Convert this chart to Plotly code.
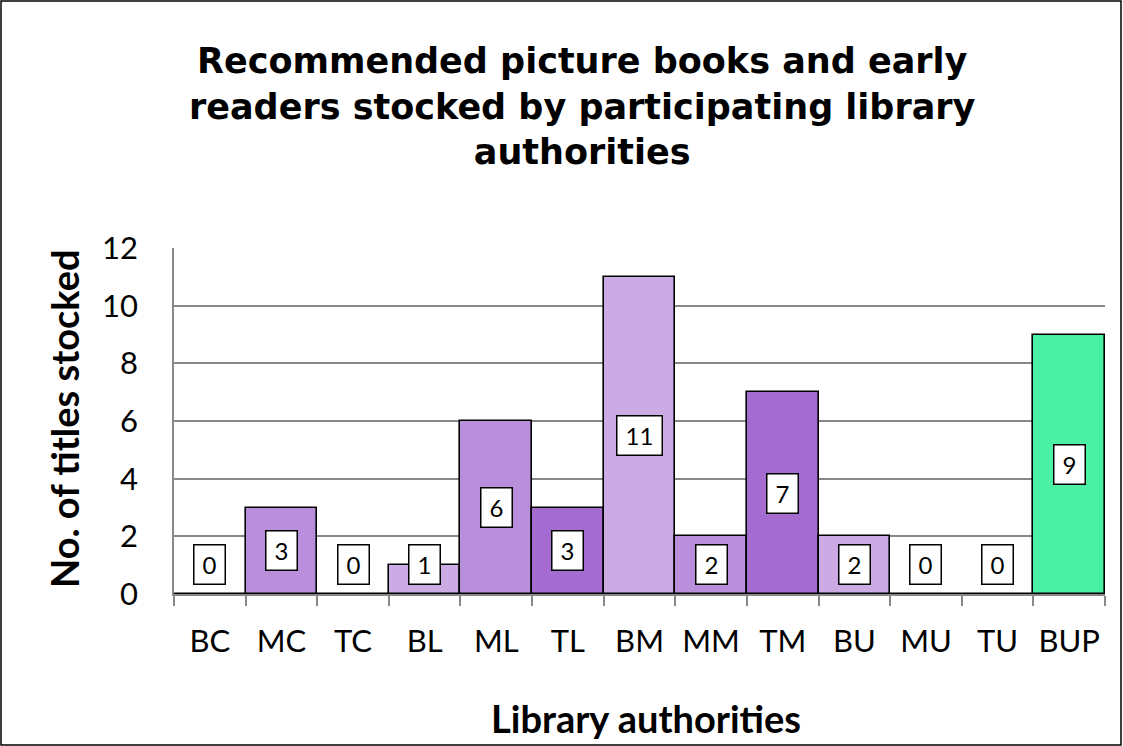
import plotly.graph_objects as go

categories = ["BC", "MC", "TC", "BL", "ML", "TL", "BM", "MM", "TM", "BU", "MU", "TU", "BUP"]
values = [0, 3, 0, 1, 6, 3, 11, 2, 7, 2, 0, 0, 9]
title_lines = ["Recommended picture books and early",
               "readers stocked by participating library",
               "authorities"]
y_title = "No. of titles stocked"
x_title = "Library authorities"
LIGHT = "#CCAAE3"
MED = "#B98EDB"
DARK = "#A46CD0"
GREEN = "#4AF0A3"
bar_colors = [LIGHT, MED, DARK, LIGHT, MED, DARK, LIGHT, MED, DARK, LIGHT, MED, DARK, GREEN]
y_ticks = [0, 2, 4, 6, 8, 10, 12]

W, H = 1123, 746
L, R, T, B = 174, 1105, 248, 594
ml, mr, mt, mb = L, W - R, T, H - B
pw, ph = R - L, B - T

def px_x(x):
    return (x - L) / pw

def px_y(y):
    return (B - y) / ph

FONT = "Lato"
TFONT = "DejaVu Sans"

fig = go.Figure()
fig.add_trace(go.Bar(
    x=categories, y=values,
    marker=dict(color=bar_colors, line=dict(color="black", width=1.6)),
    hoverinfo="x+y",
))

# data labels
for c, v in zip(categories, values):
    s = str(v)
    fig.add_annotation(
        x=c, y=max(v / 2, 1.04), xref="x", yref="y",
        text=s, showarrow=False,
        font=dict(family=FONT, size=24, color="black"),
        bgcolor="white", bordercolor="black", borderwidth=1.5, borderpad=0,
        width=16 + 14 * len(s), height=38,
    )

# title
fig.add_annotation(
    x=px_x(582), y=px_y(107), xref="paper", yref="paper",
    text="<b>" + "<br>".join(title_lines) + "</b>",
    showarrow=False, xanchor="center", yanchor="middle", align="center",
    font=dict(family=TFONT, size=35, color="black"),
)
# axis titles
fig.add_annotation(
    x=px_x(64), y=px_y(419), xref="paper", yref="paper",
    text="<b>" + y_title + "</b>", textangle=-90, showarrow=False,
    xanchor="center", yanchor="middle",
    font=dict(family=FONT, size=38, color="black"),
)
fig.add_annotation(
    x=px_x(646), y=px_y(718), xref="paper", yref="paper",
    text="<b>" + x_title + "</b>", showarrow=False,
    xanchor="center", yanchor="middle",
    font=dict(family=FONT, size=38, color="black"),
)

# outer chart border
fig.add_shape(
    type="rect", xref="paper", yref="paper",
    x0=px_x(1), x1=px_x(W - 2), y0=px_y(H - 1), y1=px_y(1),
    line=dict(color="black", width=1.5), fillcolor="rgba(0,0,0,0)", layer="below",
)

fig.update_layout(
    width=W, height=H,
    margin=dict(l=ml, r=mr, t=mt, b=mb, pad=0),
    paper_bgcolor="white", plot_bgcolor="white",
    bargap=0, showlegend=False,
    font=dict(family=FONT, color="black"),
)
fig.update_xaxes(
    type="category", tickson="boundaries", ticks="outside", ticklen=10,
    tickcolor="#888888", tickwidth=1.5,
    showline=True, linecolor="#888888", linewidth=1.5,
    showgrid=False, tickfont=dict(family=FONT, size=31, color="black"),
    range=[-0.5, len(categories) - 0.5], ticklabelstandoff=19,
)
fig.update_yaxes(
    range=[0, 12], tickvals=y_ticks, ticks="",
    showline=True, linecolor="#888888", linewidth=1.5,
    showgrid=True, gridcolor="#888888", gridwidth=1.5,
    zeroline=False, tickfont=dict(family=FONT, size=31, color="black"),
    ticklabelstandoff=28,
)

fig.write_html("out.html", config={"displayModeBar": False},
               post_script="document.body.style.margin='0';")
